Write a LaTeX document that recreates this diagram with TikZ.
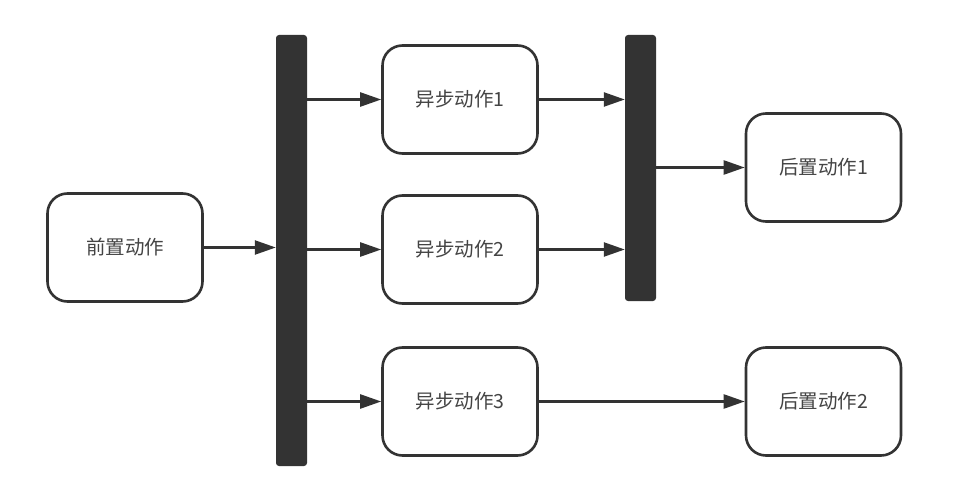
\documentclass[tikz,border=0pt]{standalone}
\usepackage{fontspec}
\setmainfont{Noto Sans CJK SC}
\usepackage{tikz}
\usetikzlibrary{arrows.meta, positioning}
\definecolor{ink}{HTML}{333333}
\definecolor{label}{HTML}{444444}

\begin{document}
\begin{tikzpicture}[
    x=1pt, y=-1pt,
    action/.style={rectangle, rounded corners=20pt, draw=ink, line width=2.6pt, fill=white, minimum width=155pt, minimum height=108pt, align=center, text=label, font=\fontsize{19.5}{23}\selectfont},
    syncbar/.style={rectangle, rounded corners=3pt, fill=ink, minimum width=31pt, inner sep=0pt},
    flow/.style={-{Triangle[length=21pt,width=14pt]}, line width=2.4pt, draw=ink},
]
\useasboundingbox (0,0) rectangle (973,494);

% Pre action
\node[action] (pre) at (125,247.5) {前置动作};

% Fork bar
\node[syncbar, minimum height=431pt] (fork) at (291.5,250.5) {};

% Async actions
\node[action] (async1) at (460,99.5) {异步动作1};
\node[action] (async2) at (460,249.5) {异步动作2};
\node[action] (async3) at (460,401.5) {异步动作3};

% Join bar
\node[syncbar, minimum height=266pt] (join) at (640.5,168) {};

% Post actions
\node[action] (post1) at (823.5,167.5) {后置动作1};
\node[action] (post2) at (823.5,401.5) {后置动作2};

% Arrows
\draw[flow] (pre.east) -- (pre.east -| fork.west);
\draw[flow] (fork.east |- async1.west) -- (async1.west);
\draw[flow] (fork.east |- async2.west) -- (async2.west);
\draw[flow] (fork.east |- async3.west) -- (async3.west);
\draw[flow] (async1.east) -- (async1.east -| join.west);
\draw[flow] (async2.east) -- (async2.east -| join.west);
\draw[flow] (join.east |- post1.west) -- (post1.west);
\draw[flow] (async3.east) -- (post2.west);

\end{tikzpicture}
\end{document}
